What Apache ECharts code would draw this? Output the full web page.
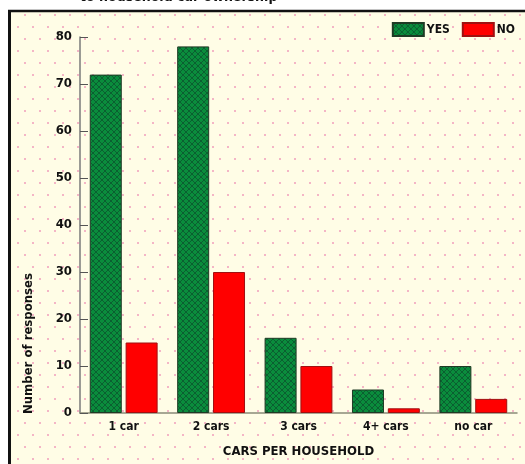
<!DOCTYPE html>
<html>
<head>
<meta charset="utf-8">
<script src="https://cdn.jsdelivr.net/npm/echarts@6/dist/echarts.min.js"></script>
<style>
  html, body { margin: 0; padding: 0; background: #ffffff; }
  #chart { width: 525px; height: 464px; }
</style>
</head>
<body>
<div id="chart"></div>
<script>
// Survey responses grouped by number of cars in the household
const categories = ['1 car', '2 cars', '3 cars', '4+ cars', 'no car'];
const yesValues = [72, 78, 16, 5, 10];
const noValues = [15, 30, 10, 1, 3];
const seriesNames = ['YES', 'NO'];

const FONT = '"Liberation Sans Narrow", "DejaVu Sans Condensed", "Liberation Sans", sans-serif';

// Cream paper texture with a staggered grid of pink dots
function makeDotTile() {
  const c = document.createElement('canvas');
  c.width = 15; c.height = 24;
  const g = c.getContext('2d');
  g.fillStyle = '#fffde6';
  g.fillRect(0, 0, 15, 24);
  g.fillStyle = '#f4b6c6';
  g.fillRect(2, 2, 2, 2);
  g.fillRect(9, 14, 2, 2);
  return c;
}

// Green fill with a fine dark cross-hatch
function makeHatchTile() {
  const c = document.createElement('canvas');
  c.width = 6; c.height = 6;
  const g = c.getContext('2d');
  g.fillStyle = '#0a8c3c';
  g.fillRect(0, 0, 6, 6);
  g.fillStyle = '#0b5f31';
  for (let i = 0; i < 6; i++) {
    g.fillRect(i, i, 1, 1);
    g.fillRect(5 - i, i, 1, 1);
  }
  return c;
}

const hatch = makeHatchTile();

const chart = echarts.init(document.getElementById('chart'), null, { renderer: 'canvas' });

chart.setOption({
  animation: false,
  backgroundColor: '#ffffff',
  graphic: [
    {
      type: 'rect', z: -10, silent: true,
      shape: { x: 9, y: 10, width: 516, height: 454 },
      style: { fill: { image: makeDotTile(), repeat: 'repeat' } }
    },
    {
      type: 'line', z: 5, silent: true,
      shape: { x1: 8, y1: 11, x2: 525, y2: 11 },
      style: { stroke: '#111111', lineWidth: 2.5 }
    },
    {
      type: 'line', z: 5, silent: true,
      shape: { x1: 9.5, y1: 10, x2: 9.5, y2: 464 },
      style: { stroke: '#111111', lineWidth: 3 }
    },
    {
      type: 'text', silent: true,
      x: 80, y: -10,
      style: { text: 'to household car ownership', font: 'bold 14px ' + FONT, fill: '#111111' }
    },
    {
      type: 'text', silent: true,
      x: 29, y: 414, rotation: Math.PI / 2,
      style: {
        text: 'Number of responses', font: 'bold 13px ' + FONT, fill: '#111111',
        align: 'left', verticalAlign: 'middle'
      }
    }
  ],
  legend: {
    data: seriesNames,
    right: 5,
    top: 17,
    itemWidth: 31,
    itemHeight: 13,
    itemGap: 12,
    icon: 'rect',
    textStyle: { fontFamily: FONT, fontWeight: 'bold', fontSize: 12, color: '#111111', padding: [0, 0, 0, -2] }
  },
  grid: { left: 80, right: 8, top: 37, bottom: 51 },
  xAxis: {
    type: 'category',
    data: categories,
    name: 'CARS PER HOUSEHOLD',
    nameLocation: 'middle',
    nameGap: 32,
    nameTextStyle: { fontFamily: FONT, fontWeight: 'bold', fontSize: 13, color: '#111111' },
    axisLine: { lineStyle: { color: '#8a8a78', width: 1.5 } },
    axisTick: { inside: true, length: 8, lineStyle: { color: '#777777' } },
    axisLabel: { margin: 8, fontFamily: FONT, fontWeight: 'bold', fontSize: 12, color: '#111111' }
  },
  yAxis: {
    type: 'value',
    min: 0, max: 80, interval: 10,
    axisLine: { show: true, lineStyle: { color: '#7a7a7a', width: 1.5 } },
    axisTick: { show: true, inside: true, length: 8, lineStyle: { color: '#555555' } },
    axisLabel: { margin: 8, fontFamily: FONT, fontWeight: 'bold', fontSize: 13, color: '#111111' },
    splitLine: { show: false }
  },
  series: [
    {
      name: seriesNames[0], type: 'bar', data: yesValues,
      barWidth: 32, barGap: '12%',
      itemStyle: { color: { image: hatch, repeat: 'repeat' }, borderColor: '#1f3a24', borderWidth: 1 }
    },
    {
      name: seriesNames[1], type: 'bar', data: noValues,
      barWidth: 32, barGap: '12%',
      itemStyle: { color: '#ff0000', borderColor: '#a01010', borderWidth: 1 }
    }
  ]
});
</script>
</body>
</html>
